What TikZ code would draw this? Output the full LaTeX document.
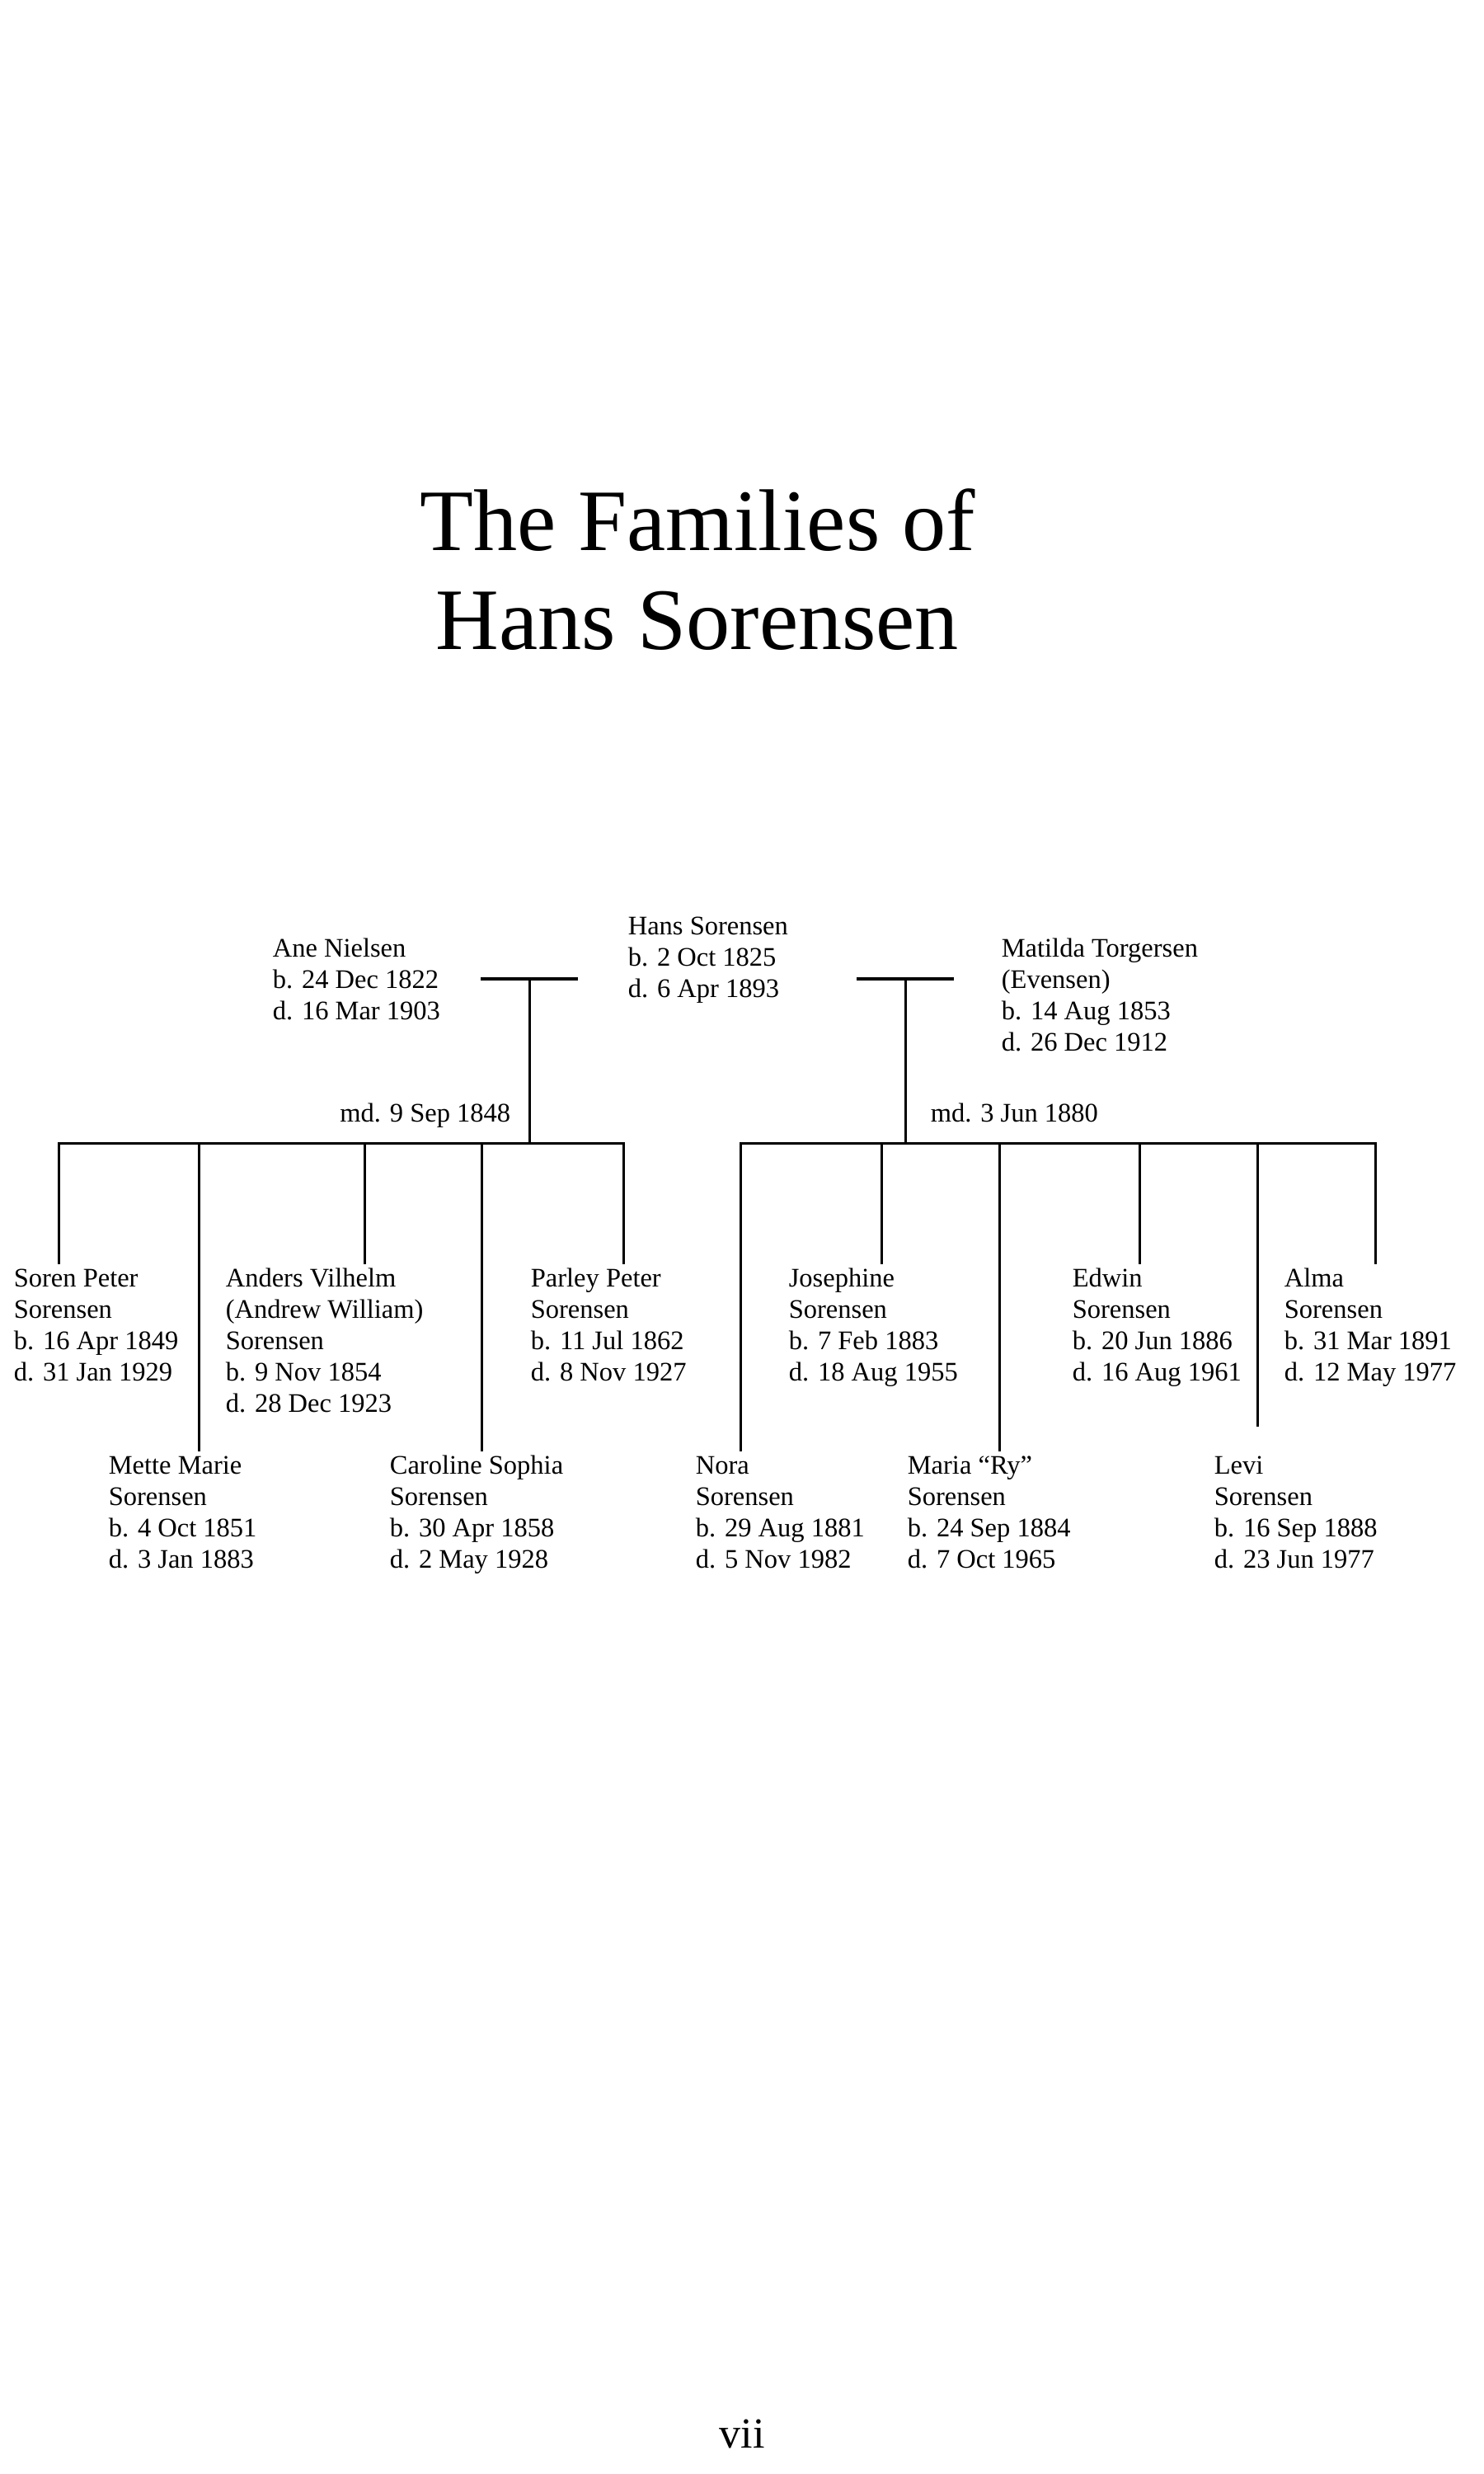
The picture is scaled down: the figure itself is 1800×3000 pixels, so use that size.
\documentclass[tikz,border=0pt]{standalone}
\usepackage{fontspec}
\setmainfont{Liberation Serif}
\newcommand{\pinfo}[1]{\begin{tabular}[t]{@{}l@{}}#1\end{tabular}}
\tikzset{
  person/.style={anchor=base west, inner sep=0pt, font=\fontsize{7.8bp}{9.12bp}\selectfont},
  mdlabel/.style={inner sep=0pt, font=\fontsize{7.8bp}{9.12bp}\selectfont},
  tline/.style={line width=0.72bp, line join=miter},
  barline/.style={line width=0.8bp}
}
\begin{document}
\begin{tikzpicture}[x=0.24bp,y=-0.24bp]
\useasboundingbox (0,0) rectangle (1800,3000);
% title
\node[anchor=base, inner sep=0pt, font=\fontsize{25.5bp}{28.8bp}\selectfont] (title) at (846,667)
  {\begin{tabular}[t]{@{}c@{}}The Families of\\Hans Sorensen\end{tabular}};
% parents
\node[person] (ane) at (330,1160) {\pinfo{Ane Nielsen\\b. 24 Dec 1822\\d. 16 Mar 1903}};
\node[person] (hans) at (761,1133) {\pinfo{Hans Sorensen\\b. 2 Oct 1825\\d. 6 Apr 1893}};
\node[person] (matilda) at (1214,1160) {\pinfo{Matilda Torgersen\\(Evensen)\\b. 14 Aug 1853\\d. 26 Dec 1912}};
\node[mdlabel, anchor=base east] (md1) at (620,1360) {md. 9 Sep 1848};
\node[mdlabel, anchor=base west] (md2) at (1128,1360) {md. 3 Jun 1880};
% children, first family
\node[person] (soren) at (16,1560) {\pinfo{Soren Peter\\Sorensen\\b. 16 Apr 1849\\d. 31 Jan 1929}};
\node[person] (mette) at (131,1787) {\pinfo{Mette Marie\\Sorensen\\b. 4 Oct 1851\\d. 3 Jan 1883}};
\node[person] (anders) at (273,1560) {\pinfo{Anders Vilhelm\\(Andrew William)\\Sorensen\\b. 9 Nov 1854\\d. 28 Dec 1923}};
\node[person] (caroline) at (472,1787) {\pinfo{Caroline Sophia\\Sorensen\\b. 30 Apr 1858\\d. 2 May 1928}};
\node[person] (parley) at (643,1560) {\pinfo{Parley Peter\\Sorensen\\b. 11 Jul 1862\\d. 8 Nov 1927}};
% children, second family
\node[person] (nora) at (843,1787) {\pinfo{Nora\\Sorensen\\b. 29 Aug 1881\\d. 5 Nov 1982}};
\node[person] (josephine) at (956,1560) {\pinfo{Josephine\\Sorensen\\b. 7 Feb 1883\\d. 18 Aug 1955}};
\node[person] (maria) at (1100,1787) {\pinfo{Maria “Ry”\\Sorensen\\b. 24 Sep 1884\\d. 7 Oct 1965}};
\node[person] (edwin) at (1300,1560) {\pinfo{Edwin\\Sorensen\\b. 20 Jun 1886\\d. 16 Aug 1961}};
\node[person] (levi) at (1472,1787) {\pinfo{Levi\\Sorensen\\b. 16 Sep 1888\\d. 23 Jun 1977}};
\node[person] (alma) at (1557,1560) {\pinfo{Alma\\Sorensen\\b. 31 Mar 1891\\d. 12 May 1977}};
% page number
\node[anchor=base, inner sep=0pt, font=\fontsize{12.5bp}{15bp}\selectfont] (pageno) at (900,2968) {vii};
% coordinates, first family
\coordinate (LB1) at (583,1187); \coordinate (LB2) at (701,1187); \coordinate (LT) at (642,1187);
\coordinate (LJ) at (642,1386);
\coordinate (L1) at (71,1386); \coordinate (L2) at (241,1386); \coordinate (L3) at (442,1386);
\coordinate (L4) at (584,1386); \coordinate (L5) at (756,1386);
% coordinates, second family
\coordinate (RB1) at (1039,1187); \coordinate (RB2) at (1157,1187); \coordinate (RT) at (1098,1187);
\coordinate (RJ) at (1098,1386);
\coordinate (R1) at (898,1386); \coordinate (R2) at (1069,1386); \coordinate (R3) at (1212,1386);
\coordinate (R4) at (1382,1386); \coordinate (R5) at (1525,1386); \coordinate (R6) at (1668,1386);
% first family lines
\draw[barline] (LB1) -- (LB2);
\draw[tline] (LT) -- (LJ);
\draw[tline] (soren.north -| L1) -- (L1) -- (L5) -- (parley.north -| L5);
\draw[tline] (L2) -- (mette.north -| L2);
\draw[tline] (L3) -- (anders.north -| L3);
\draw[tline] (L4) -- (caroline.north -| L4);
% second family lines
\draw[barline] (RB1) -- (RB2);
\draw[tline] (RT) -- (RJ);
\draw[tline] (nora.north -| R1) -- (R1) -- (R6) -- (alma.north -| R6);
\draw[tline] (R2) -- (josephine.north -| R2);
\draw[tline] (R3) -- (maria.north -| R3);
\draw[tline] (R4) -- (edwin.north -| R4);
\draw[tline, shorten >=7.2bp] (R5) -- (levi.north -| R5);
\end{tikzpicture}
\end{document}
